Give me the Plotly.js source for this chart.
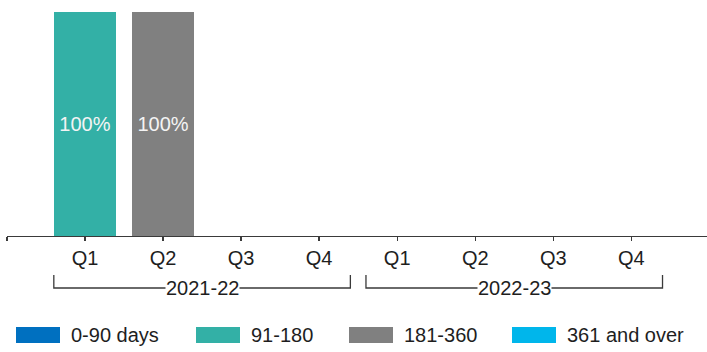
<!DOCTYPE html>
<html>
<head>
<meta charset="utf-8">
<script src="https://cdn.plot.ly/plotly-3.0.1.min.js"></script>
<style>html,body{margin:0;padding:0;background:#fff;}#chart{width:707px;height:352px;}</style>
</head>
<body>
<div id="chart"></div>
<script>
// ---- data ----
var quarters = ['Q1', 'Q2', 'Q3', 'Q4', 'Q1', 'Q2', 'Q3', 'Q4'];
var years = ['2021-22', '2022-23'];
var seriesNames = ['0-90 days', '91-180', '181-360', '361 and over'];
var days0to90 = [0, 0, 0, 0, 0, 0, 0, 0];
var days91to180 = [100, 0, 0, 0, 0, 0, 0, 0];
var days181to360 = [0, 100, 0, 0, 0, 0, 0, 0];
var days361plus = [0, 0, 0, 0, 0, 0, 0, 0];

// ---- styles ----
var colors = ['#0070C0', '#33B0A6', '#808080', '#00B6EB'];
var FONT = '"Liberation Sans", Arial, sans-serif';
var TEXTC = '#1E1E1E';
var LINEC = '#3A3A3A';

var seriesValues = [days0to90, days91to180, days181to360, days361plus];
var xIdx = quarters.map(function (q, i) { return i; });

var traces = seriesValues.map(function (vals, s) {
  return {
    type: 'bar',
    name: seriesNames[s],
    x: xIdx,
    y: vals,
    width: 0.8,
    marker: {color: colors[s], line: {width: 0}},
    text: vals.map(function (v) { return v > 0 ? Math.round(v) + '%' : ''; }),
    textposition: 'inside',
    insidetextanchor: 'middle',
    textangle: 0,
    textfont: {family: FONT, size: 20, color: '#F4F4F4'},
    hoverinfo: 'none',
    showlegend: false
  };
});

// ---- layout geometry ----
var plotTop = 12, plotBottom = 236, plotLeft = 7, plotRight = 707;
function py(pix) { return (plotBottom - pix) / (plotBottom - plotTop); }
function px(pix) { return (pix - plotLeft) / (plotRight - plotLeft); }

var shapes = [];
var annotations = [];
var perYear = quarters.length / years.length;
years.forEach(function (yr, g) {
  var x0 = g * perYear - 0.4, x1 = (g + 1) * perYear - 1 + 0.4;
  shapes.push({
    type: 'path', xref: 'x', yref: 'paper',
    path: 'M' + x0 + ',' + py(275) + ' L' + x0 + ',' + py(288) + ' L' + x1 + ',' + py(288) + ' L' + x1 + ',' + py(275),
    line: {color: LINEC, width: 1.3}
  });
  annotations.push({
    xref: 'x', yref: 'paper', x: g * perYear + (perYear - 1) / 2, y: py(288),
    text: yr, showarrow: false, xanchor: 'center', yanchor: 'middle',
    bgcolor: '#ffffff', borderpad: 0,
    font: {family: FONT, size: 20, color: TEXTC}
  });
});

// custom legend (wide swatches)
var legRectX = [16, 196, 349, 512];
seriesNames.forEach(function (name, s) {
  shapes.push({
    type: 'rect', xref: 'paper', yref: 'paper',
    x0: px(legRectX[s]), x1: px(legRectX[s] + 44),
    y0: py(343), y1: py(327),
    fillcolor: colors[s], line: {width: 0}
  });
  annotations.push({
    xref: 'paper', yref: 'paper', x: px(legRectX[s] + 53), y: py(335),
    text: name, showarrow: false, xanchor: 'left', yanchor: 'middle',
    font: {family: FONT, size: 20, color: TEXTC}
  });
});

var layout = {
  width: 707, height: 352,
  margin: {l: plotLeft, r: 707 - plotRight, t: plotTop, b: 352 - plotBottom, pad: 0},
  paper_bgcolor: '#ffffff', plot_bgcolor: '#ffffff',
  barmode: 'stack',
  showlegend: false,
  font: {family: FONT, size: 20, color: TEXTC},
  xaxis: {
    type: 'linear',
    range: [-1, 7.97],
    tickmode: 'array',
    tickvals: [-1].concat(xIdx),
    ticktext: [''].concat(quarters),
    ticks: 'outside', ticklen: 4, tickwidth: 1.3, tickcolor: LINEC,
    showline: true, linecolor: LINEC, linewidth: 1.3,
    showgrid: false, zeroline: false,
    tickfont: {family: FONT, size: 20, color: TEXTC},
    fixedrange: true
  },
  yaxis: {range: [0, 100], visible: false, fixedrange: true},
  shapes: shapes,
  annotations: annotations
};

Plotly.newPlot('chart', traces, layout, {staticPlot: true, displayModeBar: false});
</script>
</body>
</html>
